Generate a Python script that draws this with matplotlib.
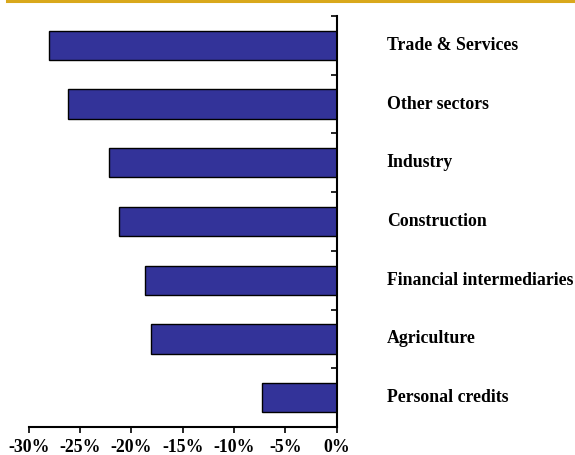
import matplotlib

matplotlib.use("Agg")
import matplotlib.pyplot as plt
from matplotlib.lines import Line2D
from matplotlib.ticker import FixedLocator, FuncFormatter, NullLocator

# credit growth by sector, percent change
sectors = [
    "Trade & Services",
    "Other sectors",
    "Industry",
    "Construction",
    "Financial intermediaries",
    "Agriculture",
    "Personal credits",
]
change_pct = [-28.0, -26.2, -22.2, -21.2, -18.7, -18.1, -7.3]
x_ticks = [-30, -25, -20, -15, -10, -5, 0]

BAR_COLOR = "#333399"
FONT = ["Liberation Serif", "DejaVu Serif"]

fig = plt.figure(figsize=(5.75, 4.55), dpi=100)
ax = fig.add_axes([28.7 / 575, 28 / 455, 308 / 575, 411 / 455])

ypos = list(range(len(sectors)))
ax.barh(ypos, change_pct, height=0.5, color=BAR_COLOR,
        edgecolor="black", linewidth=1.0, zorder=2)

ax.set_xlim(-30, 0)
ax.set_ylim(len(sectors) - 0.5, -0.5)

for spine in ("left", "top"):
    ax.spines[spine].set_visible(False)
for spine in ("right", "bottom"):
    ax.spines[spine].set_linewidth(1.5)

# x axis: percent ticks below
ax.xaxis.set_major_locator(FixedLocator(x_ticks))
ax.xaxis.set_major_formatter(FuncFormatter(lambda v, _: f"{int(v)}%"))
ax.tick_params(axis="x", direction="out", length=4, width=1.2, pad=5)
for lbl in ax.get_xticklabels():
    lbl.set_fontfamily(FONT)
    lbl.set_fontweight("bold")
    lbl.set_fontsize(12.8)

# y axis: boundary ticks on the zero line, pointing into the plot
ax.yaxis.tick_right()
ax.yaxis.set_major_locator(NullLocator())
ax.yaxis.set_minor_locator(FixedLocator([i - 0.5 for i in range(len(sectors) + 1)]))
ax.tick_params(axis="y", which="minor", direction="in", length=4, width=1.2)

for y, name in zip(ypos, sectors):
    ax.annotate(name, xy=(0, y), xytext=(36, 0), textcoords="offset points",
                ha="left", va="center", fontsize=12.8, fontweight="bold",
                family=FONT, annotation_clip=False)

# gold rule along the top edge
fig.add_artist(Line2D([7 / 575, 1], [1 - 1.2 / 455, 1 - 1.2 / 455],
                      transform=fig.transFigure, color="#D9A81C", linewidth=2.2))

fig.savefig("out.png", dpi=100)
